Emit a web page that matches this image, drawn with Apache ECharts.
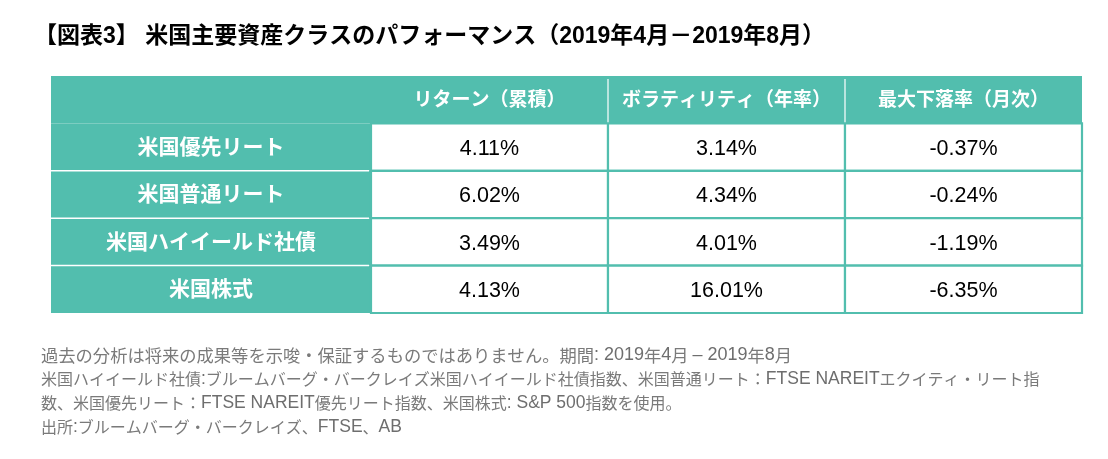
<!DOCTYPE html>
<html><head><meta charset="utf-8">
<script src="https://cdn.jsdelivr.net/npm/echarts@6/dist/echarts.min.js"></script>
<style>html,body{margin:0;padding:0;background:#fff}#c{width:1108px;height:459px}</style>
</head><body><div id="c"></div>
<script>
const titleText = '【図表3】 米国主要資産クラスのパフォーマンス（2019年4月－2019年8月）';
const categories = ['米国優先リート', '米国普通リート', '米国ハイイールド社債', '米国株式'];
const columns = ['リターン（累積）', 'ボラティリティ（年率）', '最大下落率（月次）'];
const returns = [4.11, 6.02, 3.49, 4.13];
const volatility = [3.14, 4.34, 4.01, 16.01];
const maxDrawdown = [-0.37, -0.24, -1.19, -6.35];
const notes = [
  '過去の分析は将来の成果等を示唆・保証するものではありません。期間: 2019年4月 – 2019年8月',
  '米国ハイイールド社債:ブルームバーグ・バークレイズ米国ハイイールド社債指数、米国普通リート：FTSE NAREITエクイティ・リート指',
  '数、米国優先リート：FTSE NAREIT優先リート指数、米国株式: S&P 500指数を使用。',
  '出所:ブルームバーグ・バークレイズ、FTSE、AB'
];

const valueCols = [returns, volatility, maxDrawdown];
const rowCats = [''].concat(categories);
const TEAL = '#52BEAE';
const FONT = '"Liberation Sans", Arial, "Noto Sans CJK JP", sans-serif';

// wrap latin / CJK runs for rich text styling (first line uses wider style)
const notesRich = notes.map(function (line, i) {
  const js = i === 0 ? 'k' : 'j';
  const ls = i === 0 ? 'm' : 'l';
  return line.replace(/([A-Za-z0-9&:.\-–]+(?: [A-Za-z0-9&:.\-–]+)*)/g, '\u0001$1\u0002')
    .split(/(\u0001[^\u0002]*\u0002)/).map(function (p) {
      if (!p) return '';
      if (p.charAt(0) === '\u0001') return '{' + ls + '|' + p.slice(1, -1) + '}';
      return '{' + js + '|' + p + '}';
    }).join('');
}).join('\n');

function cellRect(api) {
  const c = api.coord([api.value(0), api.value(1)]);
  const s = api.size([1, 1]);
  return { x: c[0] - s[0] / 2, y: c[1] - s[1] / 2, w: s[0], h: s[1] };
}

const headData = [];
for (let r = 0; r <= categories.length; r++) headData.push([0, r]);
const bodyData = [];
for (let col = 0; col < columns.length; col++)
  for (let r = 0; r <= categories.length; r++) bodyData.push([col, r]);

const JFONT = '"Noto Sans CJK JP", sans-serif';
const LFONT = '"Liberation Sans", Arial, sans-serif';
const NOTE_GRAY = '#7a7a7a';

const chart = echarts.init(document.getElementById('c'), null, { renderer: 'canvas' });
chart.setOption({
  animation: false,
  title: [
    { text: titleText, left: 29, top: 20,
      textStyle: { fontFamily: FONT, fontSize: 23, fontWeight: 'bold', color: '#000' } },
    { text: notesRich, left: 36, top: 338,
      textStyle: { fontFamily: FONT, fontSize: 16, fontWeight: 'normal', color: NOTE_GRAY, lineHeight: 24,
        rich: {
          j: { fontFamily: JFONT, fontSize: 16, fontWeight: 'normal', color: NOTE_GRAY, lineHeight: 24 },
          l: { fontFamily: LFONT, fontSize: 17.5, fontWeight: 'normal', color: '#6e6e6e', lineHeight: 24 },
          k: { fontFamily: JFONT, fontSize: 17.3, fontWeight: 'normal', color: NOTE_GRAY, lineHeight: 24 },
          m: { fontFamily: LFONT, fontSize: 18, fontWeight: 'normal', color: '#6e6e6e', lineHeight: 24 }
        } } }
  ],
  grid: [
    { left: 51, top: 76, width: 320, height: 237 },
    { left: 371, top: 76, width: 711, height: 237 }
  ],
  xAxis: [
    { type: 'category', gridIndex: 0, data: [''], show: false },
    { type: 'category', gridIndex: 1, data: columns, show: false }
  ],
  yAxis: [
    { type: 'category', gridIndex: 0, data: rowCats, inverse: true, show: false },
    { type: 'category', gridIndex: 1, data: rowCats, inverse: true, show: false }
  ],
  series: [
    {
      type: 'custom', xAxisIndex: 0, yAxisIndex: 0, data: headData,
      renderItem: function (params, api) {
        const r = cellRect(api);
        const row = api.value(1);
        const children = [
          { type: 'rect', shape: { x: r.x, y: r.y, width: r.w, height: r.h }, style: { fill: TEAL } }
        ];
        if (row >= 2) {
          children.push({ type: 'line', shape: { x1: r.x, y1: r.y, x2: r.x + r.w - 2, y2: r.y },
            style: { stroke: '#fff', lineWidth: 1.5 } });
        }
        if (row >= 1) {
          children.push({ type: 'text', style: { text: categories[row - 1], x: r.x + r.w / 2, y: r.y + r.h / 2 + 1,
            align: 'center', verticalAlign: 'middle', fill: '#fff',
            font: 'bold 21px ' + FONT } });
        }
        return { type: 'group', children: children };
      }
    },
    {
      type: 'custom', xAxisIndex: 1, yAxisIndex: 1, data: bodyData,
      renderItem: function (params, api) {
        const r = cellRect(api);
        const col = api.value(0), row = api.value(1);
        const children = [];
        if (row === 0) {
          children.push({ type: 'rect', shape: { x: r.x, y: r.y, width: r.w, height: r.h }, style: { fill: TEAL } });
          if (col > 0) children.push({ type: 'line', shape: { x1: r.x, y1: r.y + 3, x2: r.x, y2: r.y + r.h },
            style: { stroke: '#fff', lineWidth: 1.2 } });
          children.push({ type: 'text', style: { text: columns[col], x: r.x + r.w / 2, y: r.y + r.h / 2 + 1,
            align: 'center', verticalAlign: 'middle', fill: '#fff', font: 'bold 19px ' + FONT } });
        } else {
          children.push({ type: 'rect', shape: { x: r.x, y: r.y, width: r.w, height: r.h },
            style: { fill: '#fff', stroke: TEAL, lineWidth: 2.2 } });
          const v = valueCols[col][row - 1];
          children.push({ type: 'text', style: { text: v.toFixed(2) + '%', x: r.x + r.w / 2, y: r.y + r.h / 2 + 2,
            align: 'center', verticalAlign: 'middle', fill: '#000', font: '21.5px ' + FONT } });
        }
        return { type: 'group', children: children };
      }
    }
  ]
});
</script>
</body></html>
